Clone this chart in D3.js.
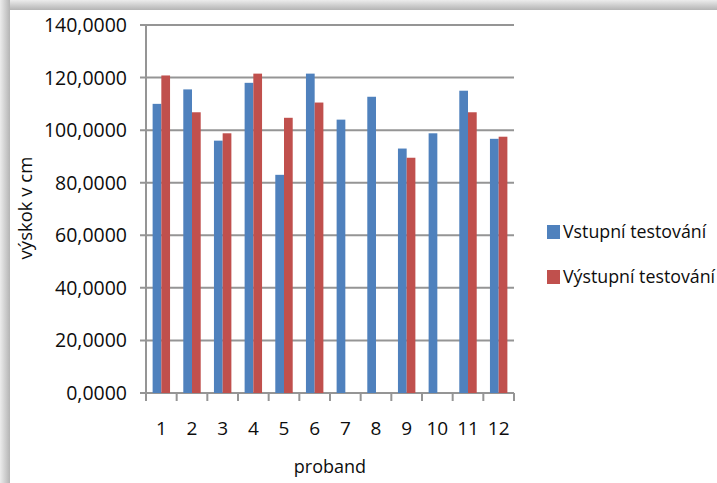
<!DOCTYPE html>
<html>
<head>
<meta charset="utf-8">
<script src="https://cdn.jsdelivr.net/npm/d3@7"></script>
<style>
  body { margin: 0; background: #fff; }
  text { font-family: "Open Sans", sans-serif; fill: #0d0d0d; }
</style>
</head>
<body>
<svg id="chart"></svg>
<script>
// data
var probands = ['1','2','3','4','5','6','7','8','9','10','11','12'];
var series = ['Vstupní testování', 'Výstupní testování'];
var vstupni = [110, 115.5, 96, 118, 83, 121.5, 104, 112.7, 93, 98.8, 115, 96.7];
var vystupni = [120.8, 106.8, 98.8, 121.5, 104.7, 110.5, null, null, 89.5, null, 106.8, 97.5];
var yTicks = [0, 20, 40, 60, 80, 100, 120, 140];
var colors = ['#4f81bd', '#c0504d'];

var svgWidth = 717, svgHeight = 483;
var plotLeft = 146, plotRight = 514, plotTop = 25, plotBottom = 393;

var svg = d3.select('#chart')
  .attr('width', svgWidth)
  .attr('height', svgHeight);

// frame shadow
var defs = svg.append('defs');
var gTop = defs.append('linearGradient').attr('id', 'shTop')
  .attr('x1', 0).attr('y1', 0).attr('x2', 0).attr('y2', 1);
gTop.append('stop').attr('offset', '0%').attr('stop-color', '#ececec');
gTop.append('stop').attr('offset', '100%').attr('stop-color', '#b4b4b4');
var gLeft = defs.append('linearGradient').attr('id', 'shLeft')
  .attr('x1', 0).attr('y1', 0).attr('x2', 1).attr('y2', 0);
gLeft.append('stop').attr('offset', '0%').attr('stop-color', '#ececec');
gLeft.append('stop').attr('offset', '100%').attr('stop-color', '#b4b4b4');

svg.append('rect').attr('x', 0).attr('y', 0).attr('width', svgWidth).attr('height', 10)
  .attr('fill', 'url(#shTop)');
svg.append('rect').attr('x', 0).attr('y', 0).attr('width', 10).attr('height', svgHeight)
  .attr('fill', 'url(#shLeft)');

var x0 = d3.scaleBand()
  .domain(probands)
  .range([plotLeft, plotRight]);

var x1 = d3.scaleBand()
  .domain(series)
  .range([0, x0.bandwidth()])
  .paddingOuter(0.76);

var yScale = d3.scaleLinear()
  .domain([0, 140])
  .range([plotBottom, plotTop]);

// gridlines
svg.append('g').selectAll('line')
  .data(yTicks)
  .enter()
  .append('line')
  .attr('x1', plotLeft - 6)
  .attr('x2', plotRight)
  .attr('y1', function(d) { return yScale(d); })
  .attr('y2', function(d) { return yScale(d); })
  .attr('stroke', '#959595')
  .attr('stroke-width', 2);

// y axis line
svg.append('line')
  .attr('x1', plotLeft).attr('x2', plotLeft)
  .attr('y1', plotTop).attr('y2', plotBottom)
  .attr('stroke', '#959595').attr('stroke-width', 2);

// x tick marks at category boundaries
var bounds = probands.map(function(d) { return x0(d); }).concat([plotRight]);
svg.append('g').selectAll('line')
  .data(bounds)
  .enter()
  .append('line')
  .attr('x1', function(d) { return d; })
  .attr('x2', function(d) { return d; })
  .attr('y1', plotBottom)
  .attr('y2', plotBottom + 8)
  .attr('stroke', '#959595')
  .attr('stroke-width', 2);

// y tick labels
svg.append('g').selectAll('text')
  .data(yTicks)
  .enter()
  .append('text')
  .attr('x', 127)
  .attr('y', function(d) { return yScale(d); })
  .attr('dy', '0.36em')
  .attr('text-anchor', 'end')
  .style('font-size', '19.5px')
  .text(function(d) { return d3.format('.4f')(d).replace('.', ','); });

// x tick labels
svg.append('g').selectAll('text')
  .data(probands)
  .enter()
  .append('text')
  .attr('x', function(d) { return x0(d) + x0.bandwidth() / 2; })
  .attr('y', 428)
  .attr('dy', '0.36em')
  .attr('text-anchor', 'middle')
  .style('font-size', '19px')
  .text(function(d) { return d; });

// bars
var allSeries = [vstupni, vystupni];
allSeries.forEach(function(values, s) {
  svg.append('g').selectAll('rect')
    .data(values.map(function(v, i) { return { cat: probands[i], v: v }; })
      .filter(function(d) { return d.v !== null; }))
    .enter()
    .append('rect')
    .attr('x', function(d) { return x0(d.cat) + x1(series[s]); })
    .attr('width', x1.bandwidth())
    .attr('y', function(d) { return yScale(d.v); })
    .attr('height', function(d) { return plotBottom - yScale(d.v); })
    .attr('fill', colors[s]);
});

// axis titles
svg.append('text')
  .attr('x', 330)
  .attr('y', 467)
  .attr('dy', '0.36em')
  .attr('text-anchor', 'middle')
  .style('font-size', '18px')
  .text('proband');

svg.append('text')
  .attr('transform', 'translate(25,208) rotate(-90)')
  .attr('dy', '0.36em')
  .attr('text-anchor', 'middle')
  .style('font-size', '18.5px')
  .text('výskok v cm');

// legend
var legendY = [232, 277];
var legend = svg.append('g').selectAll('g')
  .data(series)
  .enter()
  .append('g');
legend.append('rect')
  .attr('x', 547)
  .attr('y', function(d, i) { return legendY[i] - 7; })
  .attr('width', 13)
  .attr('height', 14)
  .attr('fill', function(d, i) { return colors[i]; });
legend.append('text')
  .attr('x', 563)
  .attr('y', function(d, i) { return legendY[i]; })
  .attr('dy', '0.36em')
  .style('font-size', '17.8px')
  .text(function(d) { return d; });
</script>
</body>
</html>
